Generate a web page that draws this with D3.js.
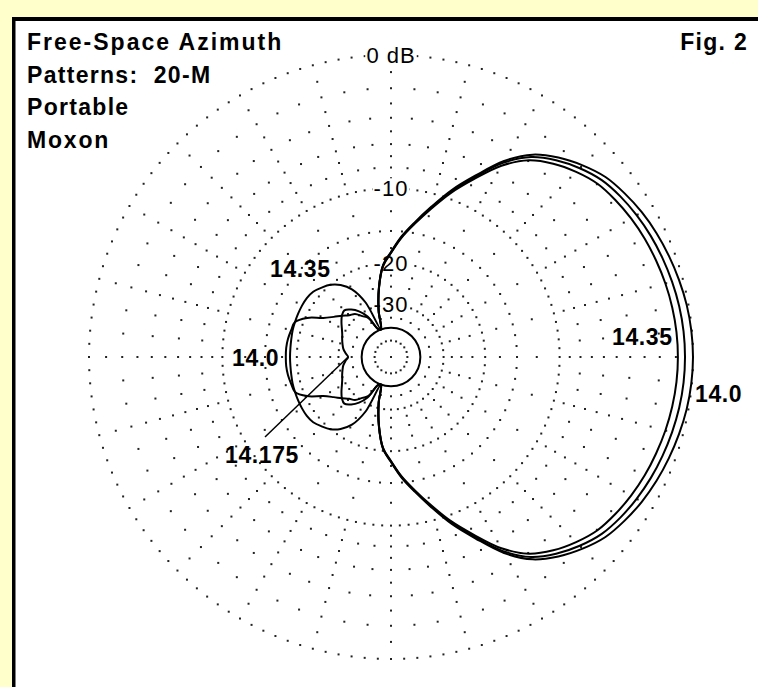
<!DOCTYPE html>
<html><head><meta charset="utf-8">
<script src="https://cdn.jsdelivr.net/npm/d3@7"></script>
<style>html,body{margin:0;padding:0;background:#FFFFCC;} svg{display:block}</style>
</head><body>
<svg id="chart" width="758" height="687"></svg>
<script>
// ---------- data ----------
const angles = d3.range(0, 360, 5); // azimuth, degrees CCW from the right (forward) direction
const freqLabels = ["14.0", "14.175", "14.35"];
const gain14000 = [0.0,-0.03,-0.1,-0.22,-0.36,-0.52,-0.72,-0.98,-1.3,-1.86,-2.55,-3.45,-4.95,-7.05,-9.1,-11.4,-13.6,-15.7,-18.13,-20.4,-25.1,-31.6,-40,-39,-32.7,-30.9,-28.9,-28.0,-26.6,-25.1,-23.2,-20.3,-18.6,-18.4,-18.2,-18.1,-18.1,
  -18.1,-18.2,-18.4,-18.6,-20.3,-23.2,-25.1,-26.6,-28.0,-28.9,-30.9,-32.7,-39,-40,-31.6,-25.1,-20.4,-18.13,-15.7,-13.6,-11.4,-9.1,-7.05,-4.95,-3.45,-2.55,-1.86,-1.3,-0.98,-0.72,-0.52,-0.36,-0.22,-0.1,-0.03];
const gain14175 = [-0.46,-0.48,-0.54,-0.64,-0.76,-0.9,-1.08,-1.3,-1.6,-2.12,-2.78,-3.65,-5.12,-7.2,-9.24,-11.52,-13.7,-15.79,-18.2,-20.47,-25.17,-31.67,-40,-39,-32,-29,-27.2,-26.1,-26.6,-27.6,-28.7,-29.6,-30.2,-30.8,-31.4,-32.4,-33.5,
  -32.4,-31.4,-30.8,-30.2,-29.6,-28.7,-27.6,-26.6,-26.1,-27.2,-29,-32,-39,-40,-31.67,-25.17,-20.47,-18.2,-15.79,-13.7,-11.52,-9.24,-7.2,-5.12,-3.65,-2.78,-2.12,-1.6,-1.3,-1.08,-0.9,-0.76,-0.64,-0.54,-0.48];
const gain14350 = [-0.88,-0.9,-0.96,-1.05,-1.17,-1.3,-1.47,-1.68,-1.95,-2.45,-3.08,-3.93,-5.37,-7.4,-9.42,-11.67,-13.83,-15.9,-18.3,-20.55,-25.25,-31.75,-40,-27.7,-23.2,-21.2,-20.0,-19.3,-18.7,-18.5,-18.5,-18.55,-18.6,-18.65,-18.75,-18.8,-18.8,
  -18.8,-18.75,-18.65,-18.6,-18.55,-18.5,-18.5,-18.7,-19.3,-20.0,-21.2,-23.2,-27.7,-40,-31.75,-25.25,-20.55,-18.3,-15.9,-13.83,-11.67,-9.42,-7.4,-5.37,-3.93,-3.08,-2.45,-1.95,-1.68,-1.47,-1.3,-1.17,-1.05,-0.96,-0.9];
const ringDb = [0, -2, -4, -6, -8, -10, -15, -20, -30, -50];
const ringStepDeg = [2.5, 5, 5, 5, 5, 3, 5, 5, 7.5, 18];
const ringLabels = ["0 dB", "", "", "", "", "-10", "", "-20", "-30", ""];
const spokeDeg = d3.range(0, 360, 15);
const spokeDb = [-1, -3, -5, -7, -9, -12.5, -17.5, -22.5, -25, -27.5, -35];
const floorDb = -40;
const titleLines = ["Free-Space Azimuth", "Patterns:  20-M", "Portable", "Moxon"];
const figLabel = "Fig. 2";

// ---------- layout ----------
const svg = d3.select("#chart");
const W = 758, H = 687;
const cx = 391, cy = 357, R = 302;

// ARRL log scale: radius proportional to (power ratio)^0.253
const radius = d3.scalePow().exponent(-5 * Math.log10(0.89)).domain([0, 1]).range([0, R]);
const rDb = db => radius(Math.pow(10, db / 10));
const angleScale = d3.scaleLinear().domain([0, 360]).range([Math.PI / 2, Math.PI / 2 - 2 * Math.PI]);
const px = (deg, db) => cx + rDb(db) * Math.sin(angleScale(deg));
const py = (deg, db) => cy - rDb(db) * Math.cos(angleScale(deg));

// panel
svg.append("rect").attr("x", 12).attr("y", 17).attr("width", W).attr("height", H).attr("fill", "#000");
svg.append("rect").attr("x", 15.5).attr("y", 21).attr("width", W).attr("height", H).attr("fill", "#fff");

const g = svg.append("g");

// grid dots: rings and spokes
const gridDots = [];
ringDb.forEach((db, i) => {
  d3.range(0, 360, ringStepDeg[i]).forEach(a => gridDots.push({a, db}));
});
spokeDeg.forEach(a => spokeDb.forEach(db => gridDots.push({a, db})));
gridDots.push({a: 0, db: -1000});
g.append("g").selectAll("rect").data(gridDots).join("rect")
  .attr("x", d => px(d.a, d.db) - 1).attr("y", d => py(d.a, d.db) - 1)
  .attr("width", 2).attr("height", 2).attr("fill", "#222");

// floor circle
g.append("circle").attr("cx", cx).attr("cy", cy).attr("r", rDb(floorDb))
  .attr("fill", "none").attr("stroke", "#000").attr("stroke-width", 2);

// ring labels with opaque background
const lab = g.append("g").selectAll("g").data(ringDb.map((db, i) => ({db, t: ringLabels[i]})).filter(d => d.t))
  .join("g").attr("transform", d => `translate(${cx},${cy - rDb(d.db)})`);
lab.append("rect");
lab.append("text").text(d => d.t)
  .attr("text-anchor", "middle").attr("dy", "0.36em")
  .attr("font-family", "'Liberation Sans', Arial, sans-serif").attr("font-size", 22)
  .attr("letter-spacing", 1).attr("fill", "#000");
lab.each(function() {
  const t = d3.select(this).select("text").node().getBBox();
  d3.select(this).select("rect").attr("x", t.x - 1).attr("y", t.y + 2).attr("width", t.width + 2).attr("height", t.height - 4).attr("fill", "#fff");
});

// patterns
const line = d3.lineRadial()
  .angle((d, i) => angleScale(angles[i]))
  .radius(d => rDb(Math.max(d, floorDb)))
  .curve(d3.curveCatmullRomClosed.alpha(0.5));
[gain14000, gain14175, gain14350].forEach(s => {
  g.append("path").attr("d", line(s)).attr("transform", `translate(${cx},${cy})`)
    .attr("fill", "none").attr("stroke", "#000").attr("stroke-width", 2);
});

// text
const bold = sel => sel.attr("font-family", "'Liberation Sans', Arial, sans-serif").attr("font-weight", "bold")
  .attr("font-size", 23).attr("letter-spacing", 1.3).attr("fill", "#000").style("white-space", "pre");
svg.append("g").selectAll("text").data(titleLines).join("text")
  .attr("x", 27).attr("y", (d, i) => 50 + i * 32.5).text(d => d).call(bold)
  .attr("letter-spacing", (d, i) => [2.0, 1.3, 1.3, 1.8][i]);
svg.append("text").attr("x", 748).attr("y", 50).attr("text-anchor", "end").text(figLabel).call(bold);

const fl = [
  {t: freqLabels[2], x: 270, y: 277},
  {t: freqLabels[0], x: 232, y: 366},
  {t: freqLabels[1], x: 225, y: 463},
  {t: freqLabels[2], x: 612, y: 345},
  {t: freqLabels[0], x: 695, y: 402}
];
svg.append("g").selectAll("text").data(fl).join("text")
  .attr("x", d => d.x).attr("y", d => d.y).text(d => d.t).call(bold).attr("letter-spacing", 0.6);

// leader line for 14.175
svg.append("line").attr("x1", 265).attr("y1", 437)
  .attr("x2", px(180, gain14175[36])).attr("y2", py(180, gain14175[36]))
  .attr("stroke", "#000").attr("stroke-width", 1.5);
</script>
</body></html>
